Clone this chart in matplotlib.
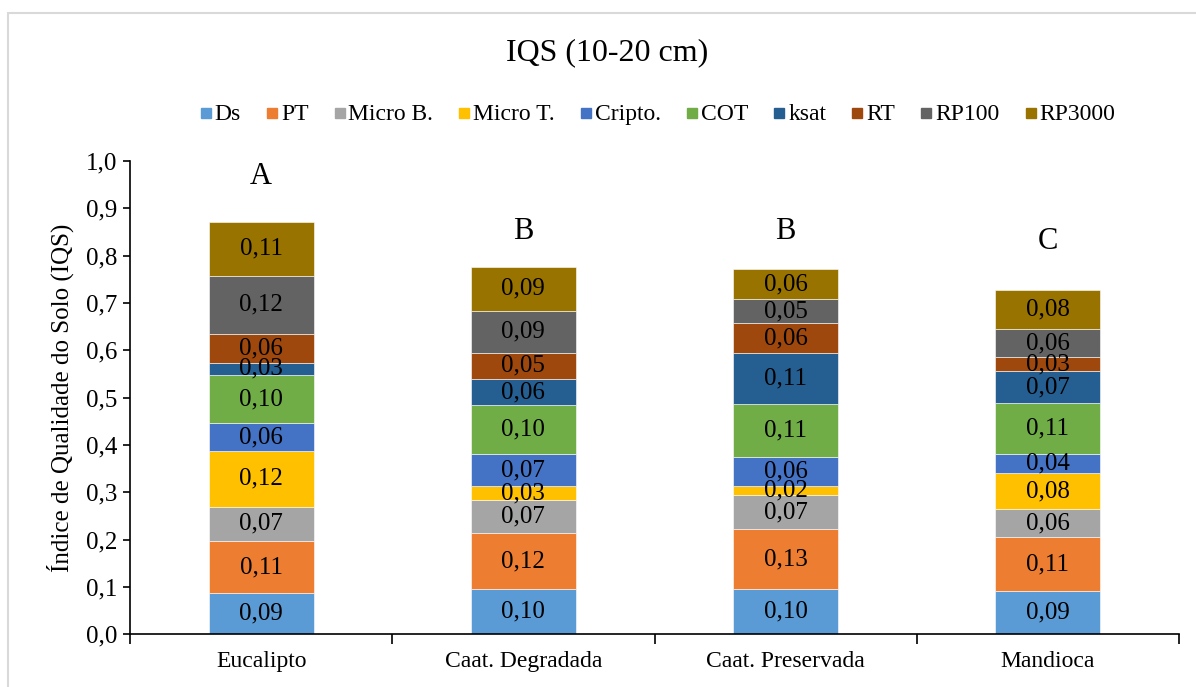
import matplotlib.pyplot as plt
from matplotlib.patches import Rectangle
import numpy as np

plt.rcParams['font.family'] = ['Liberation Serif', 'DejaVu Serif']

categories = ["Eucalipto", "Caat. Degradada", "Caat. Preservada", "Mandioca"]
series = ["Ds", "PT", "Micro B.", "Micro T.", "Cripto.", "COT", "ksat", "RT", "RP100", "RP3000"]

# one list per indicator, in category order
ds = [0.087, 0.096, 0.096, 0.092]
pt = [0.110, 0.117, 0.126, 0.113]
micro_b = [0.073, 0.070, 0.072, 0.059]
micro_t = [0.117, 0.031, 0.019, 0.076]
cripto = [0.059, 0.066, 0.062, 0.040]
cot = [0.102, 0.104, 0.112, 0.108]
ksat = [0.026, 0.056, 0.107, 0.068]
rt = [0.060, 0.054, 0.063, 0.030]
rp100 = [0.124, 0.090, 0.051, 0.058]
rp3000 = [0.113, 0.093, 0.064, 0.084]

letters = ["A", "B", "B", "C"]
letter_y = [0.967, 0.850, 0.850, 0.829]

colors = ["#5B9BD5", "#ED7D31", "#A5A5A5", "#FFC000", "#4472C4",
          "#70AD47", "#255E91", "#9E480E", "#636363", "#997300"]

values = [ds, pt, micro_b, micro_t, cripto, cot, ksat, rt, rp100, rp3000]

W, H = 1196, 687
fig = plt.figure(figsize=(W / 100, H / 100), dpi=100)
ax = fig.add_axes([130 / W, 1 - 634.3 / H, (1179 - 130) / W, (634.3 - 161) / H])

x = np.arange(len(categories))
bottom = np.zeros(len(categories))
for name, vals, col in zip(series, values, colors):
    bars = ax.bar(x, vals, 0.40, bottom=bottom, color=col, label=name,
                  edgecolor="white", linewidth=0.4)
    ax.bar_label(bars, labels=["{:.2f}".format(v).replace(".", ",") for v in vals],
                 label_type="center", fontsize=18, color="black")
    bottom += np.array(vals)

for xi, let, ly in zip(x, letters, letter_y):
    ax.text(xi, ly, let, ha="center", va="center", fontsize=22)

ax.set_xlim(-0.5, len(categories) - 0.5)
ax.set_ylim(0, 1.0)
ax.set_yticks(np.arange(0, 1.01, 0.1))
ax.set_yticklabels(["{:.1f}".format(t).replace(".", ",") for t in np.arange(0, 1.01, 0.1)])
ax.set_xticks(x)
ax.set_xticklabels(categories)
ax.set_xticks(np.arange(-0.5, len(categories), 1), minor=True)
ax.tick_params(axis="x", which="major", length=0, labelsize=17, pad=12)
ax.tick_params(axis="x", which="minor", length=7, width=1.2, direction="out")
ax.tick_params(axis="y", length=5, width=1.2, labelsize=18, pad=4)
for s in ["top", "right"]:
    ax.spines[s].set_visible(False)
ax.spines["left"].set_linewidth(1.2)
ax.spines["bottom"].set_linewidth(1.2)

ax.set_ylabel("Índice de Qualidade do Solo (IQS)", fontsize=18, labelpad=9)

fig.text(607 / W, 1 - 53 / H, "IQS (10-20 cm)", ha="center", va="center", fontsize=23)

# legend in one row, texts on a common baseline
renderer = fig.canvas.get_renderer()
sq, gap_in, gap_out = 10, 4, 26
base_y = 120
texts = [fig.text(0, 1 - base_y / H, name, fontsize=17, va="baseline", ha="left")
         for name in series]
widths = [t.get_window_extent(renderer).width for t in texts]
total = sum(sq + gap_in + w for w in widths) + gap_out * (len(series) - 1)
cur = 658 - total / 2
for t, w, col in zip(texts, widths, colors):
    fig.patches.append(Rectangle((cur / W, 1 - (base_y - 2) / H), sq / W, sq / H,
                                 transform=fig.transFigure, color=col))
    t.set_x((cur + sq + gap_in) / W)
    cur += sq + gap_in + w + gap_out

fig.patches.append(Rectangle((7.5 / W, -0.05), 1.1, 1 - 12.5 / H + 0.05,
                             transform=fig.transFigure, fill=False,
                             edgecolor="#D9D9D9", linewidth=1.5))

fig.savefig("out.png", dpi=100)
